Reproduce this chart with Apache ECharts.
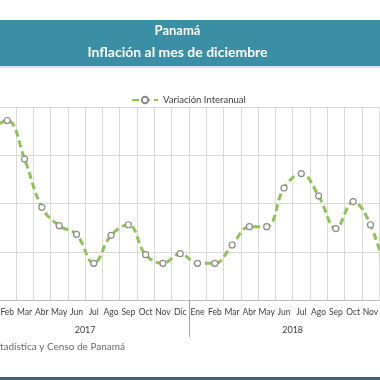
<!DOCTYPE html>
<html>
<head>
<meta charset="utf-8">
<script src="https://cdn.jsdelivr.net/npm/echarts@6/dist/echarts.min.js"></script>
<style>
html,body{margin:0;padding:0;background:#fff;overflow:hidden;width:380px;height:380px;}
#wrap{position:relative;width:380px;height:380px;overflow:hidden;}
#chart{position:absolute;left:-20px;top:0;width:420px;height:380px;}
</style>
</head>
<body>
<div id="wrap"><div id="chart"></div></div>
<script>
var months = ['Ene','Feb','Mar','Abr','May','Jun','Jul','Ago','Sep','Oct','Nov','Dic',
              'Ene','Feb','Mar','Abr','May','Jun','Jul','Ago','Sep','Oct','Nov','Dic'];
var years = ['2017','2018'];
var seriesName = 'Variación Interanual';
var values = [1.77,1.86,1.46,0.96,0.77,0.68,0.38,0.67,0.78,0.47,0.38,0.48,
              0.38,0.38,0.57,0.76,0.76,1.16,1.31,1.08,0.74,1.02,0.78,0.20];
var titleLine1 = 'Panamá';
var titleLine2 = 'Inflación al mes de diciembre';
var sourceText = 'Fuente: Instituto Nacional de Estadística y Censo de Panamá';

var OX = 20; // chart canvas is shifted 20px left of the page
var chart = echarts.init(document.getElementById('chart'), null, {renderer:'canvas'});
var FONT = 'Lato, "Open Sans", sans-serif';
chart.setOption({
  animation:false,
  backgroundColor:'#ffffff',
  textStyle:{fontFamily:FONT},
  graphic:[
    {type:'rect', shape:{x:0,y:20,width:420,height:46}, style:{fill:'#3a8fa6'}},
    {type:'rect', shape:{x:0,y:66,width:420,height:2}, style:{fill:'#cfe6ec'}},
    {type:'text', x:177.5+OX, y:31, style:{text:titleLine1, fill:'#ffffff', font:'bold 13px '+FONT, align:'center', verticalAlign:'middle'}},
    {type:'text', x:177.5+OX, y:52, style:{text:titleLine2, fill:'#ffffff', font:'bold 14px '+FONT, align:'center', verticalAlign:'middle'}},
    {type:'text', x:125+OX, y:347, style:{text:sourceText, fill:'#6b6b6b', font:'10px '+FONT, align:'right', verticalAlign:'middle'}},
    {type:'rect', shape:{x:0,y:377,width:420,height:3}, style:{fill:'#3f6470'}}
  ],
  legend:{
    data:[seriesName], top:90, left:126+OX, itemWidth:26, itemHeight:8, itemGap:4,
    textStyle:{fontSize:9.5, color:'#404040', fontFamily:FONT}
  },
  grid:{left:0, width:416.4, top:107, height:193, containLabel:false},
  xAxis:[
    {type:'category', data:months, boundaryGap:true,
     axisLine:{show:true, lineStyle:{color:'#bfbfbf', width:1}},
     axisTick:{show:false},
     axisLabel:{interval:0, fontSize:8.5, color:'#404040', margin:8, fontFamily:FONT},
     splitLine:{show:true, interval:0, lineStyle:{color:'#d9d9d9', width:1}}},
    {type:'category', data:years, boundaryGap:true, position:'bottom',
     axisLine:{show:false},
     axisTick:{show:true, interval:0, length:37, lineStyle:{color:'#a6a6a6', width:1}},
     axisLabel:{interval:0, fontSize:9, color:'#404040', margin:26, fontFamily:FONT},
     splitLine:{show:false}}
  ],
  yAxis:{type:'value', min:0, max:2, interval:0.5,
    axisLabel:{show:false}, axisLine:{show:false}, axisTick:{show:false},
    splitLine:{show:true, lineStyle:{color:'#d9d9d9', width:1}}},
  series:[{
    name:seriesName, type:'line', xAxisIndex:0, data:values, smooth:0.4,
    symbol:'circle', symbolSize:6, showSymbol:true,
    lineStyle:{color:'#8dc455', width:3, type:[7,4]},
    itemStyle:{color:'#ffffff', borderColor:'#8a8a8a', borderWidth:1.2}
  }]
});
</script>
</body>
</html>
